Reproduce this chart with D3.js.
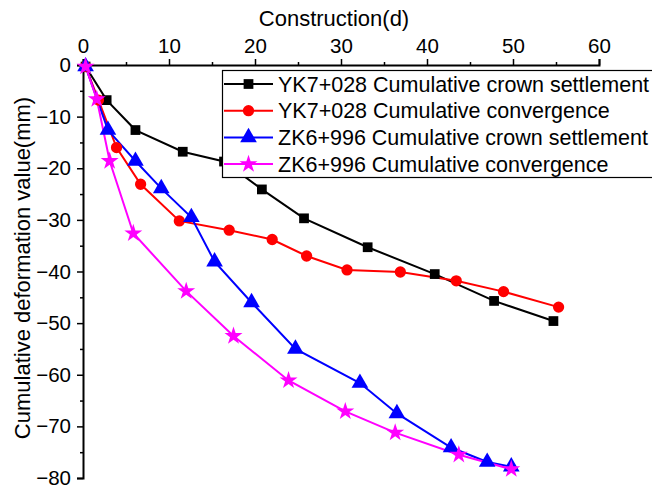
<!DOCTYPE html>
<html><head><meta charset="utf-8">
<script src="https://cdn.jsdelivr.net/npm/d3@7"></script>
<style>body{margin:0;background:#fff}svg{display:block;font-family:"Liberation Sans",Arial,sans-serif}</style>
</head><body><svg id="c" width="652" height="489"></svg>
<script>
const xTicks=[0,10,20,30,40,50,60];
const yTicks=[0,-10,-20,-30,-40,-50,-60,-70,-80];
const seriesNames=["YK7+028 Cumulative crown settlement","YK7+028 Cumulative convergence","ZK6+996 Cumulative crown settlement","ZK6+996 Cumulative convergence"];
const blackX=[0.3,2.75,6.1,11.6,16.4,20.8,25.7,33.1,40.9,47.8,54.7];
const blackY=[-0.3,-6.8,-12.6,-16.8,-18.7,-24.1,-29.7,-35.3,-40.5,-45.7,-49.6];
const redX=[0.3,1.8,3.9,6.7,11.2,17.0,22.0,26.0,30.7,36.9,43.4,48.9,55.3];
const redY=[-0.3,-6.8,-16.0,-23.1,-30.2,-32.0,-33.8,-37.0,-39.7,-40.1,-41.8,-43.9,-46.9];
const blueX=[0.3,2.9,6.1,9.1,12.6,15.3,19.6,24.7,32.2,36.5,42.8,47.0,49.8];
const blueY=[-0.3,-12.6,-18.6,-23.9,-29.5,-38.1,-46.0,-55.0,-61.6,-67.5,-74.1,-76.9,-77.8];
const magX=[0.3,1.6,3.1,5.85,12.0,17.5,23.9,30.5,36.3,43.7,49.8];
const magY=[-0.3,-6.6,-18.6,-32.6,-43.8,-52.5,-61.1,-67.1,-71.2,-75.5,-78.3];
const colors=["#000000","#ff0000","#0000ff","#ff00ff"];
const symbols=[d3.symbolSquare,d3.symbolCircle,d3.symbolTriangle,d3.symbolStar];
const symSizes=[95,100,120,100];

const svg=d3.select("#c");
const x=d3.scaleLinear().domain([0,60]).range([83,599]);
const y=d3.scaleLinear().domain([0,-80]).range([65,478]);

const series=[[blackX,blackY],[redX,redY],[blueX,blueY],[magX,magY]].map(([xs,ys],i)=>({name:seriesNames[i],color:colors[i],sym:symbols[i],size:symSizes[i],pts:xs.map((v,j)=>[v,ys[j]])}));

const tickFont=20.5, labelFont=22, legendFont=21.5;

const xAxis=d3.axisTop(x).tickValues(xTicks).tickSize(6).tickPadding(6).tickFormat(d3.format("d"));
const gx=svg.append("g").attr("transform","translate(0,65)").call(xAxis);
gx.select(".domain").attr("stroke-width",2);
gx.selectAll(".tick line").attr("stroke-width",1.5);
gx.selectAll("text").attr("font-size",tickFont).attr("fill","#000");
const xMinor=d3.axisTop(x).tickValues([5,15,25,35,45,55]).tickSize(3).tickFormat("");
const gxm=svg.append("g").attr("transform","translate(0,65)").call(xMinor);
gxm.select(".domain").remove();gxm.selectAll(".tick line").attr("stroke-width",1.5);

const yAxis=d3.axisLeft(y).tickValues(yTicks).tickSize(6).tickPadding(6).tickFormat(d3.format("d"));
const gy=svg.append("g").attr("transform","translate(83,0)").call(yAxis);
gy.select(".domain").attr("stroke-width",2);
gy.selectAll(".tick line").attr("stroke-width",1.5);
gy.selectAll("text").attr("font-size",tickFont).attr("fill","#000");
const yMinor=d3.axisLeft(y).tickValues([-5,-15,-25,-35,-45,-55,-65,-75]).tickSize(3).tickFormat("");
const gym=svg.append("g").attr("transform","translate(83,0)").call(yMinor);
gym.select(".domain").remove();gym.selectAll(".tick line").attr("stroke-width",1.5);

svg.append("text").attr("x",334).attr("y",26).attr("text-anchor","middle").attr("font-size",labelFont).text("Construction(d)");
svg.append("text").attr("transform","translate(30,268) rotate(-90)").attr("text-anchor","middle").attr("font-size",labelFont).text("Cumulative deformation value(mm)");

const line=d3.line().x(d=>x(d[0])).y(d=>y(d[1]));
series.forEach(s=>{
  svg.append("path").attr("d",line(s.pts)).attr("fill","none").attr("stroke",s.color).attr("stroke-width",2);
});
series.forEach(s=>{
  svg.selectAll(null).data(s.pts).enter().append("path")
    .attr("d",d3.symbol().type(s.sym).size(s.size))
    .attr("transform",d=>`translate(${x(d[0])},${y(d[1])})`)
    .attr("fill",s.color);
});

const lg=svg.append("g");
lg.append("rect").attr("x",222.5).attr("y",70.5).attr("width",440).attr("height",107).attr("fill","#fff").attr("stroke","#000").attr("stroke-width",1.2);
series.forEach((s,i)=>{
  const cy=84+i*26.7;
  lg.append("line").attr("x1",224).attr("x2",273).attr("y1",cy).attr("y2",cy).attr("stroke",s.color).attr("stroke-width",2);
  lg.append("path").attr("d",d3.symbol().type(s.sym).size(s.size)).attr("transform",`translate(248.5,${cy})`).attr("fill",s.color);
  lg.append("text").attr("x",278).attr("y",cy).attr("dy","0.35em").attr("font-size",legendFont).text(s.name);
});
</script></body></html>
